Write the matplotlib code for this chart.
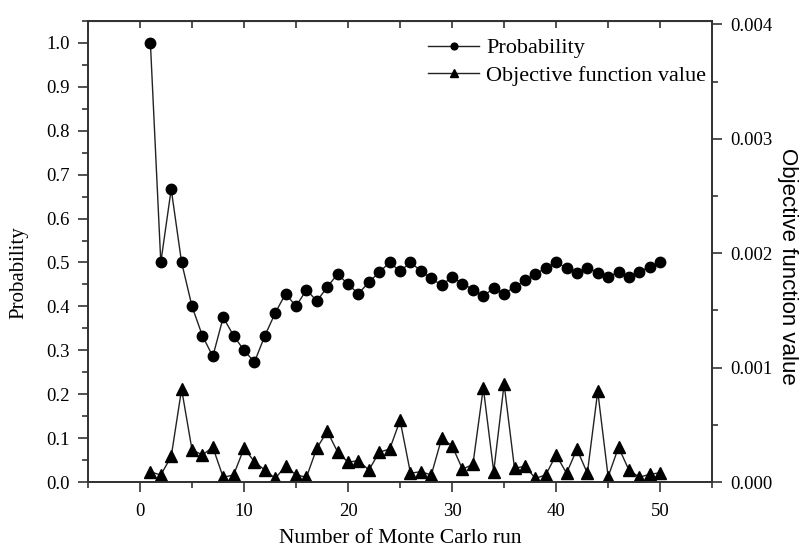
import matplotlib
matplotlib.use('Agg')
import matplotlib.pyplot as plt
from matplotlib.ticker import MultipleLocator

plt.rcParams['font.family'] = ['Liberation Serif', 'DejaVu Serif']

runs = list(range(1, 51))
probability = [1.0, 0.5, 0.667, 0.5, 0.4, 0.333, 0.286, 0.375, 0.333, 0.3,
               0.273, 0.333, 0.385, 0.429, 0.4, 0.438, 0.412, 0.444, 0.474, 0.45,
               0.429, 0.455, 0.478, 0.5, 0.48, 0.5, 0.481, 0.464, 0.448, 0.467,
               0.452, 0.438, 0.424, 0.441, 0.429, 0.444, 0.459, 0.474, 0.487, 0.5,
               0.488, 0.476, 0.488, 0.477, 0.467, 0.478, 0.468, 0.479, 0.49, 0.5]
objective = [0.0000885, 0.0000616, 0.000223, 0.000812, 0.000281, 0.000237, 0.000304, 0.0000412, 0.0000616, 0.000296,
             0.000177, 0.000104, 0.0000323, 0.000139, 0.0000616, 0.0000423, 0.000296, 0.000443, 0.000262, 0.000173,
             0.000187, 0.000104, 0.000262, 0.000287, 0.000539, 0.000077, 0.0000904, 0.0000616, 0.000383, 0.000316,
             0.000112, 0.000154, 0.000823, 0.0000904, 0.000856, 0.000119, 0.000139, 0.0000323, 0.0000616, 0.000237,
             0.000077, 0.000287, 0.000077, 0.000793, 0.0000462, 0.000304, 0.000104, 0.0000423, 0.0000673, 0.0000808]

fig = plt.figure(figsize=(8.02, 5.52), dpi=100)
ax = fig.add_axes([0.1097, 0.1268, 0.7783, 0.8352])
ax2 = ax.twinx()

l1, = ax.plot(runs, probability, '-', color='#222222', lw=1.0, marker='o', ms=7.5,
              mfc='black', mec='black')
l2, = ax2.plot(runs, objective, '-', color='#222222', lw=1.0, marker='^', ms=8.5,
               mfc='black', mec='black')

ax.set_xlim(-5, 55)
ax.set_ylim(0, 1.05)
ax2.set_ylim(0, 0.00403)

ax.xaxis.set_major_locator(MultipleLocator(10))
ax.xaxis.set_minor_locator(MultipleLocator(5))
ax.yaxis.set_major_locator(MultipleLocator(0.1))
ax.yaxis.set_minor_locator(MultipleLocator(0.05))
ax2.yaxis.set_major_locator(MultipleLocator(0.001))
ax2.yaxis.set_minor_locator(MultipleLocator(0.0005))
ax.yaxis.set_major_formatter(lambda v, p: f'{v:.1f}')
ax2.yaxis.set_major_formatter(lambda v, p: f'{v:.3f}')

ax.tick_params(which='major', direction='out', length=7, width=1.2, labelsize=13.5, color='#333333')
ax.tick_params(which='minor', direction='out', length=4, width=1.2, color='#333333')
ax.tick_params(axis='x', which='major', pad=8)
ax.tick_params(axis='y', which='major', pad=6)
ax2.tick_params(which='major', direction='out', length=7, width=1.2, labelsize=13.5, color='#333333', pad=6)
ax2.tick_params(which='minor', direction='out', length=4, width=1.2, color='#333333')
for a in (ax, ax2):
    for s in a.spines.values():
        s.set_linewidth(1.3)
        s.set_color('#333333')

top = ax.secondary_xaxis('top')
top.xaxis.set_major_locator(MultipleLocator(5))
top.tick_params(direction='in', length=5, width=1.2, labeltop=False, color='#333333')

ax.set_xlabel('Number of Monte Carlo run', fontsize=15.5)
ax.xaxis.set_label_coords(0.5, -0.103)
ax.set_ylabel('Probability', fontsize=15)
ax.yaxis.set_label_coords(-0.096, 0.455)
ax2.set_ylabel('Objective function value', fontsize=16, rotation=270,
               family=['Liberation Sans', 'DejaVu Sans'])
ax2.yaxis.set_label_coords(1.137, 0.4685)

ax.legend([l1, l2], ['Probability', 'Objective function value'], loc='upper right',
          bbox_to_anchor=(1.015, 0.997), frameon=False, fontsize=16, markerscale=0.65,
          handlelength=2.3, handletextpad=0.3, labelspacing=0.3, borderaxespad=0.3)

fig.savefig('out.png', dpi=100)
